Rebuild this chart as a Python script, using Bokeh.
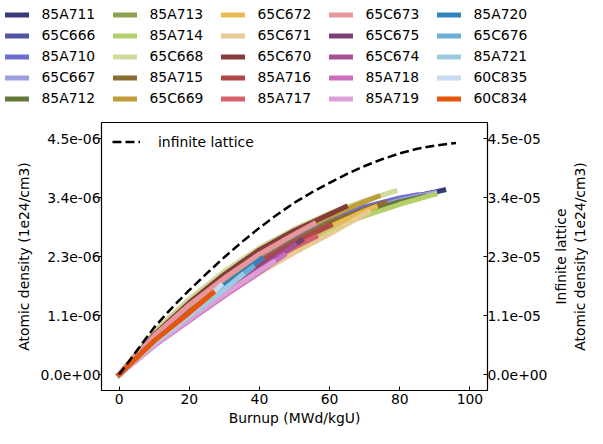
import numpy as np
from bokeh.plotting import figure
from bokeh.layouts import row, column
from bokeh.models import Range1d, LinearAxis, FixedTicker, Legend, LegendItem
from bokeh.embed import file_html
from bokeh.resources import INLINE

# ---- data (burnup in MWd/kgU, atomic density in units of 1e-6 atoms/b-cm) ----
BU_85A711 = [0, 10, 20, 30, 40, 50, 60, 70, 80, 92.5]
N_85A711 = [0, 0.62, 1.15, 1.65, 2.10, 2.50, 2.85, 3.12, 3.32, 3.52]
BU_65C666 = [0, 10, 20, 30, 40, 50, 60, 70, 80, 89]
N_65C666 = [0, 0.64, 1.18, 1.68, 2.13, 2.53, 2.88, 3.15, 3.34, 3.47]
BU_85A710 = [0, 10, 20, 30, 40, 50, 60, 70, 80, 85]
N_85A710 = [0, 0.72, 1.30, 1.80, 2.24, 2.62, 2.96, 3.20, 3.37, 3.43]
BU_65C667 = [0, 10, 20, 30, 40, 50, 60, 70, 80, 90]
N_65C667 = [0, 0.63, 1.17, 1.66, 2.11, 2.51, 2.86, 3.13, 3.33, 3.47]
BU_85A712 = [0, 10, 20, 30, 40, 50, 60, 70, 80, 87]
N_85A712 = [0, 0.63, 1.16, 1.65, 2.10, 2.50, 2.84, 3.10, 3.30, 3.40]
BU_85A713 = [0, 10, 20, 30, 40, 50, 61]
N_85A713 = [0, 0.66, 1.20, 1.70, 2.15, 2.55, 2.93]
BU_85A714 = [0, 10, 20, 30, 40, 50, 60, 70, 80, 90]
N_85A714 = [0, 0.60, 1.10, 1.58, 2.02, 2.42, 2.78, 3.03, 3.25, 3.44]
BU_65C668 = [0, 10, 20, 30, 40, 50, 60, 70, 78.6]
N_65C668 = [0, 0.82, 1.44, 1.97, 2.42, 2.78, 3.08, 3.32, 3.50]
BU_85A715 = [0, 10, 20, 30, 40, 50, 60, 70, 75.7]
N_85A715 = [0, 0.66, 1.20, 1.70, 2.15, 2.55, 2.90, 3.15, 3.28]
BU_65C669 = [0, 10, 20, 30, 40, 50, 60, 70, 73.8]
N_65C669 = [0, 0.72, 1.30, 1.82, 2.28, 2.68, 3.02, 3.30, 3.40]
BU_65C672 = [0, 10, 20, 30, 40, 50, 60, 70, 73]
N_65C672 = [0, 0.63, 1.15, 1.63, 2.07, 2.47, 2.82, 3.12, 3.20]
BU_65C671 = [0, 10, 20, 30, 40, 50, 60, 71]
N_65C671 = [0, 0.57, 1.05, 1.51, 1.94, 2.33, 2.68, 3.10]
BU_65C670 = [0, 10, 20, 30, 40, 50, 60, 64.5]
N_65C670 = [0, 0.76, 1.37, 1.91, 2.38, 2.75, 3.06, 3.20]
BU_85A716 = [0, 10, 20, 30, 40, 50, 60.2]
N_85A716 = [0, 0.66, 1.20, 1.70, 2.15, 2.52, 2.85]
BU_85A717 = [0, 10, 20, 30, 40, 50, 56]
N_85A717 = [0, 0.62, 1.13, 1.62, 2.06, 2.43, 2.63]
BU_65C673 = [0, 10, 20, 30, 40, 50, 55.5]
N_65C673 = [0, 0.74, 1.33, 1.84, 2.30, 2.68, 2.88]
BU_65C675 = [0, 10, 20, 30, 40, 52]
N_65C675 = [0, 0.62, 1.13, 1.61, 2.05, 2.56]
BU_65C674 = [0, 10, 20, 30, 40, 50]
N_65C674 = [0, 0.60, 1.10, 1.58, 2.02, 2.47]
BU_85A718 = [0, 10, 20, 30, 40, 47]
N_85A718 = [0, 0.55, 1.03, 1.50, 1.95, 2.28]
BU_85A719 = [0, 10, 20, 30, 40, 44]
N_85A719 = [0, 0.56, 1.05, 1.53, 1.98, 2.15]
BU_85A720 = [0, 10, 20, 30, 40.5]
N_85A720 = [0, 0.64, 1.18, 1.70, 2.21]
BU_65C676 = [0, 10, 20, 30, 38]
N_65C676 = [0, 0.62, 1.14, 1.63, 2.05]
BU_85A721 = [0, 10, 20, 30, 35]
N_85A721 = [0, 0.60, 1.12, 1.62, 1.90]
BU_60C835 = [0, 10, 20, 29]
N_60C835 = [0, 0.62, 1.16, 1.70]
BU_60C834 = [0, 10, 20, 26.7]
N_60C834 = [0, 0.64, 1.18, 1.56]

# infinite lattice (units of 1e-5, right axis)
INF_BU = [0, 5, 10, 15, 20, 25, 30, 35, 40, 45, 50, 55, 60, 65, 70, 75, 80, 85, 90, 96]
INF_N = [0, 0.45, 0.90, 1.27, 1.61, 1.93, 2.24, 2.53, 2.80, 3.05, 3.28, 3.48, 3.66,
         3.83, 3.98, 4.11, 4.22, 4.31, 4.37, 4.42]

LEFT_TICKS = [0.0, 1.125e-06, 2.25e-06, 3.375e-06, 4.5e-06]
LEFT_LABELS = ["0.0e+00", "1.1e-06", "2.3e-06", "3.4e-06", "4.5e-06"]
RIGHT_TICKS = [0.0, 1.125e-05, 2.25e-05, 3.375e-05, 4.5e-05]
RIGHT_LABELS = ["0.0e+00", "1.1e-05", "2.3e-05", "3.4e-05", "4.5e-05"]
X_TICKS = [0, 20, 40, 60, 80, 100]

SERIES = [
    ("85A711", "#393b79", BU_85A711, N_85A711),
    ("65C666", "#5254a3", BU_65C666, N_65C666),
    ("85A710", "#6b6ecf", BU_85A710, N_85A710),
    ("65C667", "#9c9ede", BU_65C667, N_65C667),
    ("85A712", "#637939", BU_85A712, N_85A712),
    ("85A713", "#8ca252", BU_85A713, N_85A713),
    ("85A714", "#b5cf6b", BU_85A714, N_85A714),
    ("65C668", "#cedb9c", BU_65C668, N_65C668),
    ("85A715", "#8c6d31", BU_85A715, N_85A715),
    ("65C669", "#bd9e39", BU_65C669, N_65C669),
    ("65C672", "#e7ba52", BU_65C672, N_65C672),
    ("65C671", "#e7cb94", BU_65C671, N_65C671),
    ("65C670", "#843c39", BU_65C670, N_65C670),
    ("85A716", "#ad494a", BU_85A716, N_85A716),
    ("85A717", "#d6616b", BU_85A717, N_85A717),
    ("65C673", "#e7969c", BU_65C673, N_65C673),
    ("65C675", "#7b4173", BU_65C675, N_65C675),
    ("65C674", "#a55194", BU_65C674, N_65C674),
    ("85A718", "#ce6dbd", BU_85A718, N_85A718),
    ("85A719", "#de9ed6", BU_85A719, N_85A719),
    ("85A720", "#3182bd", BU_85A720, N_85A720),
    ("65C676", "#6baed6", BU_65C676, N_65C676),
    ("85A721", "#9ecae1", BU_85A721, N_85A721),
    ("60C835", "#c6dbef", BU_60C835, N_60C835),
    ("60C834", "#e6550d", BU_60C834, N_60C834),
]

FONT = "DejaVu Sans"
FS = "13.9px"
W = 587
H_LEG = 110
H = 318
W_MAIN = 550
W_SIDE = 37
TOP = 12
BOTTOM = 38

# ---------------- legend strip: own figure, frame = whole figure ----------------
pl = figure(width=W, height=H_LEG, output_backend="svg", toolbar_location=None,
            x_range=Range1d(1000, 1001), y_range=Range1d(1000, 1001),
            min_border=0, x_axis_type=None, y_axis_type=None)
pl.frame_align = False
pl.grid.visible = False
pl.outline_line_color = None
leg_items = []
for name, color, bu, n in SERIES:
    r = pl.line(bu, np.array(n) * 1e-6, line_color=color, line_width=5,
                line_cap="square", line_join="round")
    leg_items.append(LegendItem(label=name, renderers=[r]))
leg = Legend(items=leg_items, ncols=5, orientation="vertical", location=(4.5, 3.5),
             padding=0, margin=0, spacing=4, glyph_width=24, glyph_height=17,
             label_height=17, label_width=67, label_standoff=13,
             label_text_font=FONT, label_text_font_size=FS, label_text_color="black",
             border_line_color=None, background_fill_color=None)
pl.add_layout(leg, "center")

# ---------------- main plot ----------------
p = figure(width=W_MAIN, height=H, output_backend="svg", toolbar_location=None,
           x_range=Range1d(-5, 105), y_range=Range1d(-0.303e-6, 4.81e-6),
           min_border_left=101, min_border_right=60, min_border_top=TOP,
           min_border_bottom=BOTTOM)
p.grid.visible = False
p.outline_line_color = "black"
p.outline_line_width = 1.2
p.extra_y_ranges = {"inf": Range1d(-3.03e-6, 4.81e-5)}

for name, color, bu, n in SERIES:
    p.line(bu, np.array(n) * 1e-6, line_color=color, line_width=5,
           line_cap="square", line_join="round")

inf_r = p.line(INF_BU, np.array(INF_N) * 1e-5, y_range_name="inf", line_color="black",
               line_width=2.5, line_dash="9 4")


def style_axis(ax):
    ax.axis_line_color = None
    ax.major_tick_line_color = "black"
    ax.major_tick_line_width = 1
    ax.minor_tick_line_color = None
    ax.major_label_text_font = FONT
    ax.major_label_text_font_size = FS
    ax.major_label_text_color = "black"
    ax.axis_label_text_font = FONT
    ax.axis_label_text_font_size = FS
    ax.axis_label_text_font_style = "normal"
    ax.axis_label_text_color = "black"


xa = p.xaxis[0]
style_axis(xa)
xa.ticker = FixedTicker(ticks=X_TICKS)
xa.major_tick_in = 4
xa.major_tick_out = 0
xa.major_label_standoff = 3
xa.axis_label = "Burnup (MWd/kgU)"
xa.axis_label_standoff = 3

ya = p.yaxis[0]
style_axis(ya)
ya.ticker = FixedTicker(ticks=LEFT_TICKS)
ya.major_label_overrides = dict(zip(LEFT_TICKS, LEFT_LABELS))
ya.major_tick_in = 0
ya.major_tick_out = 3
ya.major_label_standoff = -2
ya.axis_label = "Atomic density (1e24/cm3)"
ya.axis_label_standoff = 6

ra = LinearAxis(y_range_name="inf")
style_axis(ra)
ra.ticker = FixedTicker(ticks=RIGHT_TICKS)
ra.major_label_overrides = dict(zip(RIGHT_TICKS, RIGHT_LABELS))
ra.major_tick_in = 4
ra.major_tick_out = 0
ra.major_label_standoff = 0
p.add_layout(ra, "right")

leg2 = Legend(items=[LegendItem(label="infinite lattice", renderers=[inf_r])],
              location="top_left", padding=0, margin=11, glyph_width=28, glyph_height=17,
              label_height=17, label_standoff=18, label_text_font=FONT,
              label_text_font_size=FS, label_text_color="black",
              border_line_color=None, background_fill_color=None)
p.add_layout(leg2, "center")

# narrow side strip carrying the right-hand (two-line) axis title
q = figure(width=W_SIDE, height=H, output_backend="svg", toolbar_location=None,
           x_range=Range1d(0, 1), y_range=Range1d(0, 1),
           x_axis_type=None, y_axis_type=None, min_border_left=36, min_border_right=0,
           min_border_top=TOP, min_border_bottom=BOTTOM)
q.grid.visible = False
q.outline_line_color = None
for text in ["Atomic density (1e24/cm3)", "Infinite lattice"]:
    ax = LinearAxis()
    style_axis(ax)
    ax.ticker = FixedTicker(ticks=[0.5])
    ax.major_label_overrides = {0.5: ""}
    ax.major_tick_line_color = None
    ax.major_tick_in = 0
    ax.major_tick_out = 0
    ax.major_label_standoff = 0
    ax.axis_label = text
    ax.axis_label_standoff = 0
    q.add_layout(ax, "left")

layout = column(pl, row(p, q, spacing=0), spacing=0)
open("out.html", "w").write(file_html(layout, INLINE))
